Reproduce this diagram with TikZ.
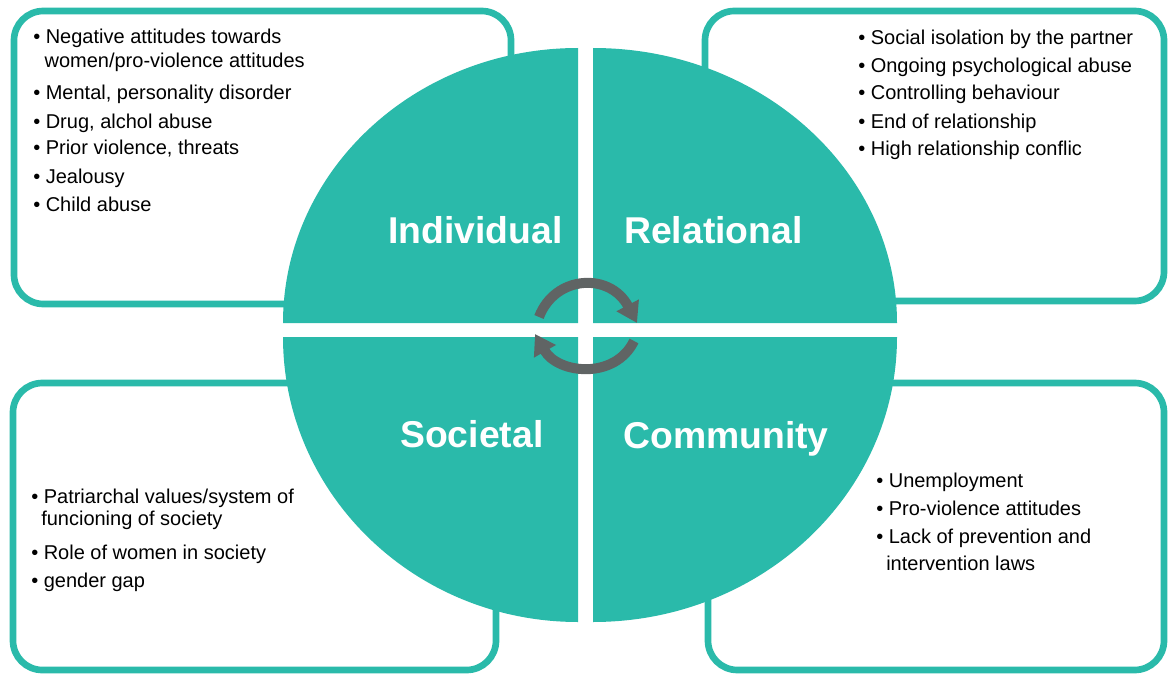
\documentclass[tikz,border=0pt]{standalone}
\usepackage{fontspec}
\setmainfont{Liberation Sans}
\usetikzlibrary{arrows.meta}
\definecolor{ecoteal}{RGB}{42,186,170}
\definecolor{cycgray}{RGB}{96,100,100}

\begin{document}
\begin{tikzpicture}[x=0.75pt, y=-0.75pt,
    box/.style={draw=ecoteal, line width=5pt, rounded corners=22pt, fill=white},
    quad/.style={fill=ecoteal},
    level/.style={anchor=base west, inner sep=0pt, text=white, font=\fontsize{28}{32}\selectfont\bfseries},
    item/.style={anchor=base west, inner sep=0pt, align=left, font=\fontsize{15}{18}\selectfont},
    cyc/.style={draw=cycgray, line width=7.5pt, -{Triangle[length=15pt, width=18pt]}}]
    \useasboundingbox (0,0) rectangle (1168,674);

    % Boxes behind the circle
    \draw[box] (14,11) rectangle (511,304);
    \draw[box] (705,11) rectangle (1164,301);
    \draw[box] (13,383) rectangle (496,670);
    \draw[box] (708,383) rectangle (1164,670);

    % The four quarters
    \fill[quad] (578,323) -- (283,323) arc[start angle=180, end angle=270, x radius=295, y radius=275] -- cycle;
    \fill[quad] (593,323) -- (593,48) arc[start angle=270, end angle=360, x radius=304, y radius=275] -- cycle;
    \fill[quad] (578,337) -- (283,337) arc[start angle=180, end angle=90, x radius=295, y radius=285] -- cycle;
    \fill[quad] (593,337) -- (897,337) arc[start angle=0, end angle=90, x radius=304, y radius=285] -- cycle;

    % Level names
    \node[level] (indiv) at (388,243) {Individual};
    \node[level] (relat) at (624,243) {Relational};
    \node[level] (socie) at (400,447) {Societal};
    \node[level] (commu) at (623,448) {Community};

    % Cycle arrows
    \coordinate (upS) at (539,317);
    \coordinate (upE) at (637,323);
    \coordinate (loS) at (634,341);
    \coordinate (loE) at (535,334);
    \draw[cyc] (upS) .. controls (555,275) and (610,272) .. (upE);
    \draw[cyc] (loS) .. controls (615,380) and (558,374) .. (loE);

    % Individual factors (two-line items sit on their last line)
    \node[item] (ind1) at (33,68) {\textbullet\ Negative attitudes towards\\\hspace*{8.5pt}women/pro-violence attitudes};
    \node[item] (ind2) at (33,100) {\textbullet\ Mental, personality disorder};
    \node[item] (ind3) at (33,128) {\textbullet\ Drug, alchol abuse};
    \node[item] (ind4) at (33,155) {\textbullet\ Prior violence, threats};
    \node[item] (ind5) at (33,183) {\textbullet\ Jealousy};
    \node[item] (ind6) at (33,211) {\textbullet\ Child abuse};

    % Relational factors
    \node[item] (rel1) at (858,45) {\textbullet\ Social isolation by the partner};
    \node[item] (rel2) at (858,73) {\textbullet\ Ongoing psychological abuse};
    \node[item] (rel3) at (858,100) {\textbullet\ Controlling behaviour};
    \node[item] (rel4) at (858,128) {\textbullet\ End of relationship};
    \node[item] (rel5) at (858,156) {\textbullet\ High relationship conflic};

    % Societal factors
    \node[item] (soc1) at (31,525) {\textbullet\ Patriarchal values/system of\\[-1.5pt]\hspace*{7.5pt}funcioning of society};
    \node[item] (soc2) at (31,559) {\textbullet\ Role of women in society};
    \node[item] (soc3) at (31,587) {\textbullet\ gender gap};

    % Community factors
    \node[item] (com1) at (876,487) {\textbullet\ Unemployment};
    \node[item] (com2) at (876,515) {\textbullet\ Pro-violence attitudes};
    \node[item] (com3) at (876,570) {\textbullet\ Lack of prevention and\\[2.25pt]\hspace*{7.5pt}intervention laws};
\end{tikzpicture}
\end{document}
